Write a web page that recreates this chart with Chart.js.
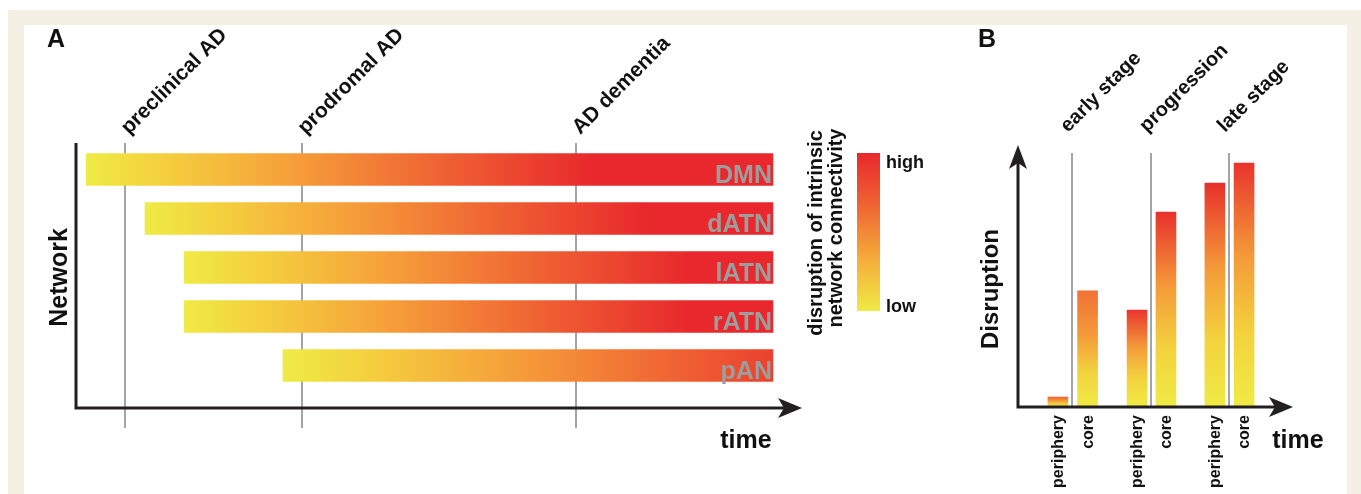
<!DOCTYPE html>
<html><head><meta charset="utf-8">
<script src="https://cdn.jsdelivr.net/npm/chart.js@4.4.1/dist/chart.umd.min.js"></script>
<style>
html,body{margin:0;padding:0;background:#fff;}
#wrap{position:relative;width:1361px;height:494px;overflow:hidden;background:#fff;}
.frame{position:absolute;background:#f4f0e3;}
canvas{position:absolute;left:0;top:0;}
</style></head>
<body><div id="wrap">
<div class="frame" style="left:8px;top:10px;width:1353px;height:15px"></div>
<div class="frame" style="left:8px;top:10px;width:16px;height:484px"></div>
<div class="frame" style="left:1347px;top:10px;width:14px;height:484px"></div>
<canvas id="chartA" width="1361" height="494" style="width:1361px;height:494px"></canvas>
<canvas id="chartB" width="1361" height="494" style="width:1361px;height:494px"></canvas>
</div>
<script>
// ---------- Panel A data ----------
const networks = ['DMN', 'dATN', 'lATN', 'rATN', 'pAN'];
const networkStart = [1.4, 9.5, 14.9, 14.9, 28.5];
const networkEnd = [96.0, 96.0, 96.0, 96.0, 96.0];
const stagesA = ['preclinical AD', 'prodromal AD', 'AD dementia'];
const stageTimesA = [6.75, 31.1, 68.9];
// ---------- Panel B data ----------
const stagesB = ['early stage', 'progression', 'late stage'];
const stageTimesB = [19.6, 48.4, 76.7];
const regions = ['periphery', 'core', 'periphery', 'core', 'periphery', 'core'];
const regionTimes = [14.5, 25.3, 43.3, 53.8, 71.6, 82.2];
const disruption = [3.8, 44.3, 37.0, 74.4, 85.5, 93.1];

// ---------- styles ----------
const FONT = '"Liberation Sans", Arial, Helvetica, sans-serif';
const AXIS = '#231f20';
const GRID = '#a3a3a8';
const spreadA = [0.74, 0.8, 0.86, 0.86, 1.15];
const topColorB = ['#f06432', '#f07234', '#e8362e', '#e8302c', '#e8302c', '#e8342d'];

function txt(ctx, s, x, y, opt) {
  ctx.save();
  ctx.translate(x, y);
  if (opt.rot) ctx.rotate(opt.rot);
  ctx.font = opt.font;
  ctx.fillStyle = opt.color || '#111';
  ctx.textAlign = opt.align || 'left';
  ctx.textBaseline = opt.baseline || 'alphabetic';
  ctx.fillText(s, 0, 0);
  ctx.restore();
}
function arrowRight(ctx, tx, ty) {
  ctx.beginPath();
  ctx.moveTo(tx, ty); ctx.lineTo(tx - 24, ty - 10); ctx.lineTo(tx - 18, ty); ctx.lineTo(tx - 24, ty + 10);
  ctx.closePath(); ctx.fill();
}
function arrowUp(ctx, tx, ty) {
  ctx.beginPath();
  ctx.moveTo(tx, ty); ctx.lineTo(tx - 9, ty + 24); ctx.lineTo(tx, ty + 18); ctx.lineTo(tx + 9, ty + 24);
  ctx.closePath(); ctx.fill();
}

// ---------- Panel A ----------
const panelA = {
  id: 'panelA',
  beforeDatasetsDraw(chart) {
    const { ctx, chartArea: ca, scales: { x } } = chart;
    ctx.save();
    ctx.strokeStyle = GRID; ctx.lineWidth = 2;
    stageTimesA.forEach(t => {
      const px = Math.round(x.getPixelForValue(t));
      ctx.beginPath(); ctx.moveTo(px, ca.top); ctx.lineTo(px, ca.bottom + 20); ctx.stroke();
    });
    ctx.restore();
  },
  afterDatasetsDraw(chart) {
    const { ctx, chartArea: ca, scales: { x, y } } = chart;
    ctx.save();
    ctx.strokeStyle = AXIS; ctx.fillStyle = AXIS; ctx.lineWidth = 3;
    ctx.beginPath(); ctx.moveTo(ca.left, ca.top); ctx.lineTo(ca.left, ca.bottom);
    ctx.lineTo(ca.right - 18, ca.bottom); ctx.stroke();
    arrowRight(ctx, ca.right, ca.bottom);
    ctx.restore();
    networks.forEach((n, i) => {
      txt(ctx, n, x.getPixelForValue(networkEnd[i]) - 1, y.getPixelForValue(i) + 13.5,
        { font: 'bold 25px ' + FONT, color: '#9d9d9d', align: 'right' });
    });
    stagesA.forEach((s, i) => {
      const px = x.getPixelForValue(stageTimesA[i]);
      txt(ctx, s, px + 4, ca.top - 8, { font: 'bold 21px ' + FONT, rot: -Math.PI / 4 });
    });
    txt(ctx, 'A', 47, 47, { font: 'bold 25px ' + FONT });
    txt(ctx, 'Network', 67, (ca.top + ca.bottom) / 2 + 2, { font: 'bold 25px ' + FONT, rot: -Math.PI / 2, align: 'center' });
    txt(ctx, 'time', ca.right - 56, 448, { font: 'bold 25px ' + FONT, align: 'center' });
    const lx = 857, lt = 153, lb = 311, lw = 23;
    const g = ctx.createLinearGradient(0, lb, 0, lt);
    g.addColorStop(0, '#efea45'); g.addColorStop(0.35, '#f5a83a');
    g.addColorStop(0.7, '#ef5e33'); g.addColorStop(1, '#e8282c');
    ctx.fillStyle = g; ctx.fillRect(lx, lt, lw, lb - lt);
    txt(ctx, 'high', 886, 168, { font: 'bold 18px ' + FONT });
    txt(ctx, 'low', 886, 312, { font: 'bold 18px ' + FONT });
    txt(ctx, 'disruption of intrinsic', 822, 233, { font: 'bold 20px ' + FONT, rot: -Math.PI / 2, align: 'center' });
    txt(ctx, 'network connectivity', 842, 228, { font: 'bold 20px ' + FONT, rot: -Math.PI / 2, align: 'center' });
  }
};

function barGradA(c) {
  const chart = c.chart;
  if (!chart.chartArea || c.type !== 'data') return '#f28a36';
  const xs = chart.scales.x;
  const i = c.dataIndex;
  const x0 = xs.getPixelForValue(networkStart[i]);
  const x1 = xs.getPixelForValue(networkEnd[i]);
  const g = chart.ctx.createLinearGradient(x0, 0, x0 + (x1 - x0) * spreadA[i], 0);
  g.addColorStop(0, '#efeb45');
  g.addColorStop(0.15, '#f4d03e');
  g.addColorStop(0.4, '#f6a03a');
  g.addColorStop(0.7, '#ef6233');
  g.addColorStop(1, '#e8282c');
  return g;
}

new Chart(document.getElementById('chartA'), {
  type: 'bar',
  data: {
    datasets: [{
      data: networks.map((n, i) => ({ y: i, x: [networkStart[i], networkEnd[i]] })),
      backgroundColor: barGradA,
      borderWidth: 0,
      barThickness: 32
    }]
  },
  options: {
    indexAxis: 'y',
    responsive: false, animation: false, devicePixelRatio: 1,
    layout: { padding: { left: 76, right: 1361 - 802, top: 143, bottom: 494 - 408 } },
    plugins: { legend: { display: false }, tooltip: { enabled: false } },
    scales: {
      x: { type: 'linear', min: 0, max: 100, display: false, offset: false },
      y: { type: 'linear', min: -0.541, max: 4.867, reverse: true, display: false, offset: false }
    }
  },
  plugins: [panelA]
});

// ---------- Panel B ----------
const panelB = {
  id: 'panelB',
  beforeDatasetsDraw(chart) {
    const { ctx, chartArea: ca, scales: { x } } = chart;
    ctx.save();
    ctx.strokeStyle = GRID; ctx.lineWidth = 2;
    stageTimesB.forEach(t => {
      const px = Math.round(x.getPixelForValue(t));
      ctx.beginPath(); ctx.moveTo(px, ca.top + 8); ctx.lineTo(px, ca.bottom); ctx.stroke();
    });
    ctx.restore();
  },
  afterDatasetsDraw(chart) {
    const { ctx, chartArea: ca, scales: { x } } = chart;
    ctx.save();
    ctx.strokeStyle = AXIS; ctx.fillStyle = AXIS; ctx.lineWidth = 3;
    ctx.beginPath(); ctx.moveTo(ca.left, ca.top + 18); ctx.lineTo(ca.left, ca.bottom);
    ctx.lineTo(ca.right - 18, ca.bottom); ctx.stroke();
    arrowRight(ctx, ca.right, ca.bottom);
    arrowUp(ctx, ca.left, ca.top);
    ctx.restore();
    regions.forEach((r, i) => {
      txt(ctx, r, x.getPixelForValue(regionTimes[i]) + 5, ca.bottom + 8,
        { font: 'bold 16px ' + FONT, rot: -Math.PI / 2, align: 'right' });
    });
    stagesB.forEach((s, i) => {
      const px = x.getPixelForValue(stageTimesB[i]);
      txt(ctx, s, px - 4, ca.top - 12, { font: 'bold 20px ' + FONT, rot: -Math.PI / 4 });
    });
    txt(ctx, 'B', 978, 47, { font: 'bold 25px ' + FONT });
    txt(ctx, 'Disruption', 998, 289, { font: 'bold 24px ' + FONT, rot: -Math.PI / 2, align: 'center' });
    txt(ctx, 'time', 1298, 448, { font: 'bold 25px ' + FONT, align: 'center' });
  }
};

function barGradB(c) {
  const chart = c.chart;
  if (!chart.chartArea || c.type !== 'data') return '#f28a36';
  const ys = chart.scales.y;
  const i = c.dataIndex;
  const y0 = ys.getPixelForValue(0);
  const y1 = ys.getPixelForValue(disruption[i]);
  const g = chart.ctx.createLinearGradient(0, y0, 0, y1);
  g.addColorStop(0, '#efeb45');
  g.addColorStop(0.3, '#f3d23e');
  g.addColorStop(0.62, '#f49a39');
  g.addColorStop(1, topColorB[i]);
  return g;
}

new Chart(document.getElementById('chartB'), {
  type: 'bar',
  data: {
    datasets: [{
      data: regions.map((r, i) => ({ x: regionTimes[i], y: disruption[i] })),
      backgroundColor: barGradB,
      borderWidth: 0,
      barThickness: 20
    }]
  },
  options: {
    responsive: false, animation: false, devicePixelRatio: 1,
    layout: { padding: { left: 1018, right: 1361 - 1293, top: 145, bottom: 494 - 407 } },
    plugins: { legend: { display: false }, tooltip: { enabled: false } },
    scales: {
      x: { type: 'linear', min: 0, max: 100, display: false, offset: false },
      y: { type: 'linear', min: 0, max: 100, display: false }
    }
  },
  plugins: [panelB]
});
</script>
</body></html>
